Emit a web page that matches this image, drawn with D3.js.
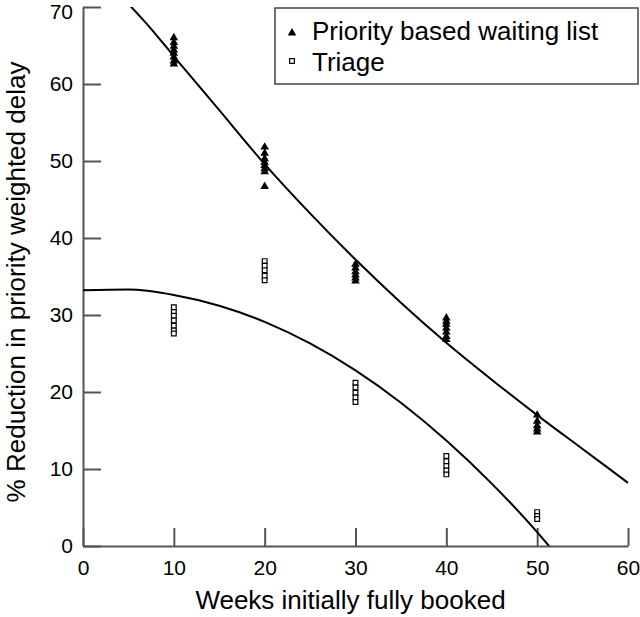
<!DOCTYPE html>
<html>
<head>
<meta charset="utf-8">
<script src="https://cdn.jsdelivr.net/npm/d3@7/dist/d3.min.js"></script>
<style>
  html, body { margin: 0; padding: 0; background: #fff; }
  svg { display: block; font-family: "Liberation Sans", Arial, Helvetica, sans-serif; }
</style>
</head>
<body>
<svg id="chart" width="640" height="617"></svg>
<script>
// ---- data ----
const weeks = [10, 20, 30, 40, 50];
const priorityValues = [
  [66.0, 65.4, 64.9, 64.4, 64.0, 63.5, 63.0, 62.6],
  [51.8, 51.0, 50.3, 49.8, 49.4, 49.0, 48.6, 46.7],
  [36.6, 36.1, 35.6, 35.2, 34.8, 34.4],
  [29.6, 29.2, 28.8, 28.3, 27.8, 27.2, 26.8],
  [17.0, 16.2, 15.6, 15.2, 14.8]
];
const triageValues = [
  [31.0, 30.4, 29.9, 29.3, 28.6, 28.0, 27.6],
  [37.0, 36.4, 35.8, 35.1, 34.5],
  [21.2, 20.6, 19.9, 19.3, 18.7],
  [11.7, 11.0, 10.4, 9.8, 9.3],
  [4.4, 3.9, 3.5]
];
// fitted trend curves as drawn in the figure
const priorityCurveWeeks  = [5, 7.4, 10, 15, 20, 25, 30, 35, 40, 45, 50, 55, 60];
const priorityCurveValues = [70.4, 67.3, 63.6, 56.6, 49.6, 43.2, 37.2, 31.6, 26.4, 21.6, 17.0, 12.6, 8.2];
const triageCurveWeeks  = [0, 5, 10, 15, 20, 25, 30, 35, 40, 45, 50, 51.3];
const triageCurveValues = [33.2, 33.3, 32.6, 31.2, 29.1, 26.3, 22.8, 18.6, 13.7, 8.1, 1.8, 0];

const xTicks = [0, 10, 20, 30, 40, 50, 60];
const yTicks = [0, 10, 20, 30, 40, 50, 60, 70];
const seriesNames = ["Priority based waiting list", "Triage"];
const xTitle = "Weeks initially fully booked";
const yTitle = "% Reduction in priority weighted delay";

// ---- drawing ----
const svg = d3.select("#chart");
const x = d3.scaleLinear().domain([0, 60]).range([83, 628]);
const y = d3.scaleLinear().domain([0, 70]).range([546, 7]);
const axisColor = "#555";
const fontTick = 21;

svg.append("defs").append("clipPath").attr("id", "plotclip")
  .append("rect").attr("x", x(0)).attr("y", y(70)).attr("width", 640 - x(0)).attr("height", y(0) - y(70));

const gy = svg.append("g").attr("transform", `translate(${x(0)},0)`)
  .call(d3.axisLeft(y).tickValues(yTicks).tickSize(-18).tickSizeOuter(0).tickPadding(10).tickFormat(d3.format("d")));
const gx = svg.append("g").attr("transform", `translate(0,${y(0)})`)
  .call(d3.axisBottom(x).tickValues(xTicks).tickSize(-18).tickSizeOuter(0).tickPadding(14).tickFormat(d3.format("d")));
[gx, gy].forEach(g => {
  g.select(".domain").attr("stroke", axisColor).attr("stroke-width", 2);
  g.selectAll(".tick line").attr("stroke", axisColor).attr("stroke-width", 2);
  g.selectAll(".tick text").attr("fill", "#000").style("font-size", fontTick + "px")
    .style("font-family", '"Liberation Sans", Arial, Helvetica, sans-serif');
});
// keep the top label inside the picture
gy.selectAll(".tick text").filter(d => d === 70).attr("dy", "0.55em");

svg.append("text").attr("x", x(30) - 5).attr("y", 609).attr("text-anchor", "middle")
  .style("font-size", "26px").attr("fill", "#000").text(xTitle);
svg.append("text").attr("transform", `translate(25,282) rotate(-90)`)
  .attr("text-anchor", "middle").style("font-size", "26px").attr("fill", "#000").text(yTitle);

const line = d3.line().x(d => x(d[0])).y(d => y(d[1])).curve(d3.curveMonotoneX);
const pCurve = priorityCurveWeeks.map((w, i) => [w, priorityCurveValues[i]]);
const tCurve = triageCurveWeeks.map((w, i) => [w, triageCurveValues[i]]);
const curves = svg.append("g").attr("clip-path", "url(#plotclip)");
curves.append("path").datum(pCurve).attr("d", line).attr("fill", "none").attr("stroke", "#000").attr("stroke-width", 2);
curves.append("path").datum(tCurve).attr("d", line).attr("fill", "none").attr("stroke", "#000").attr("stroke-width", 2);

const pPts = [], tPts = [];
weeks.forEach((w, i) => {
  priorityValues[i].forEach(v => pPts.push([w, v]));
  triageValues[i].forEach(v => tPts.push([w, v]));
});
const tri = d3.symbol().type(d3.symbolTriangle).size(32);
const sq = d3.symbol().type(d3.symbolSquare).size(22);
svg.append("g").selectAll("path").data(tPts).join("path")
  .attr("d", sq).attr("transform", d => `translate(${x(d[0])},${y(d[1])})`)
  .attr("fill", "#fff").attr("stroke", "#000").attr("stroke-width", 1.2);
svg.append("g").selectAll("path").data(pPts).join("path")
  .attr("d", tri).attr("transform", d => `translate(${x(d[0])},${y(d[1])})`)
  .attr("fill", "#000");

const lg = svg.append("g");
lg.append("rect").attr("x", 275).attr("y", 8).attr("width", 363).attr("height", 76)
  .attr("fill", "#fff").attr("stroke", "#444").attr("stroke-width", 1.5);
lg.append("path").attr("d", tri).attr("transform", "translate(292,33)").attr("fill", "#000");
lg.append("path").attr("d", sq).attr("transform", "translate(292,61)")
  .attr("fill", "#fff").attr("stroke", "#000").attr("stroke-width", 1.2);
lg.append("text").attr("x", 312).attr("y", 40).style("font-size", "26px").attr("fill", "#000").text(seriesNames[0]);
lg.append("text").attr("x", 312).attr("y", 71).style("font-size", "26px").attr("fill", "#000").text(seriesNames[1]);
</script>
</body>
</html>
